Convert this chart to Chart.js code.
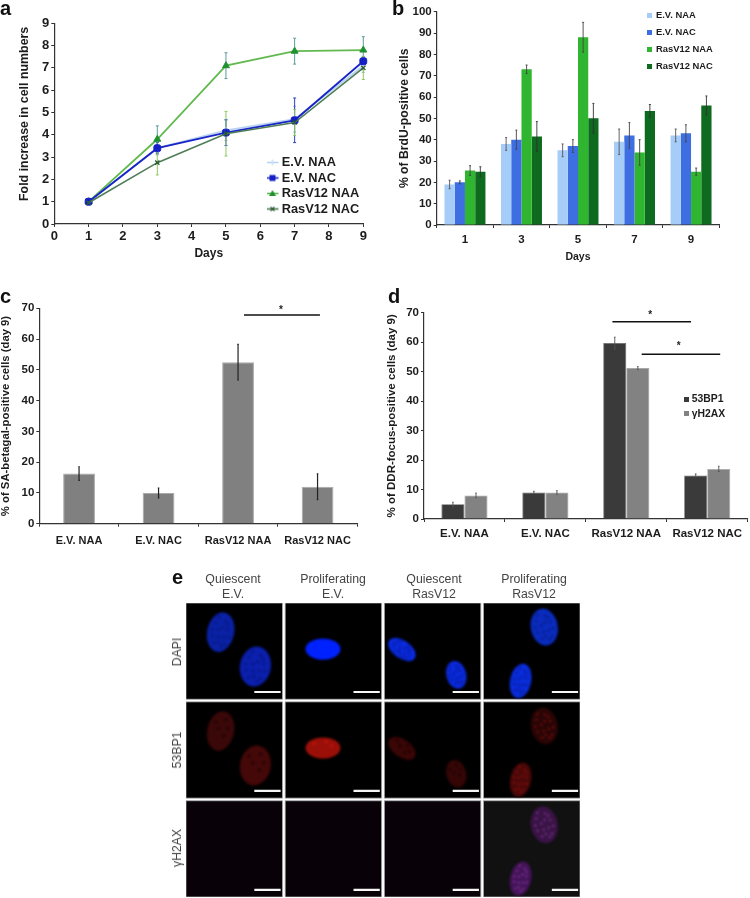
<!DOCTYPE html>
<html><head><meta charset="utf-8">
<script src="https://cdn.jsdelivr.net/npm/chart.js@4"></script>
<style>
html,body{margin:0;padding:0;background:#fff;width:750px;height:898px;overflow:hidden}
canvas{position:absolute;filter:blur(.5px)}
.t{position:absolute;font-family:"Liberation Sans",Arial,sans-serif;white-space:nowrap;filter:blur(.3px)}
.p{font-weight:bold;font-size:20px;color:#111;line-height:20px}
.c{font-size:12.3px;line-height:15px;color:#444;text-align:center;width:96px}
.r{font-size:12.3px;line-height:14px;color:#444;transform:translate(-50%,-50%) rotate(-90deg)}
</style></head><body>
<canvas id="ca" width="375" height="270" style="left:0;top:0"></canvas>
<canvas id="cb" width="375" height="270" style="left:375px;top:0"></canvas>
<canvas id="cc" width="375" height="290" style="left:0;top:280px"></canvas>
<canvas id="cd" width="375" height="290" style="left:375px;top:280px"></canvas>
<canvas id="ce" width="394" height="294" style="left:186px;top:603px"></canvas>
<div class="t p" style="left:0;top:-2px">a</div>
<div class="t p" style="left:392px;top:-2px">b</div>
<div class="t p" style="left:0;top:286px">c</div>
<div class="t p" style="left:388px;top:286px">d</div>
<div class="t p" style="left:172px;top:567px">e</div>
<div class="t c" style="left:185px;top:572px">Quiescent<br>E.V.</div>
<div class="t c" style="left:285px;top:572px">Proliferating<br>E.V.</div>
<div class="t c" style="left:386px;top:572px">Quiescent<br>RasV12</div>
<div class="t c" style="left:486px;top:572px">Proliferating<br>RasV12</div>
<div class="t r" style="left:177px;top:652px">DAPI</div>
<div class="t r" style="left:177px;top:750px">53BP1</div>
<div class="t r" style="left:177px;top:848px">γH2AX</div>
<script>
// ---------- data ----------
const seriesNames = ['E.V. NAA','E.V. NAC','RasV12 NAA','RasV12 NAC'];
const days = [1,3,5,7,9];
const foldEvNaa  = [1,3.4,4.2,4.7,7.1];
const foldEvNac  = [1,3.4,4.1,4.65,7.3];
const foldRasNaa = [1,3.8,7.1,7.75,7.8];
const foldRasNac = [0.95,2.75,4.05,4.55,7.0];
const foldErrEvNaa  = [0,0.3,0.45,0.58,0.3];
const foldErrEvNac  = [0,0.25,0.58,1.0,0.2];
const foldErrRasNaa = [0,0.6,0.58,0.58,0.6];
const foldErrRasNac = [0,0.55,1.0,0.58,0.52];

const dayLabels = ['1','3','5','7','9'];
const brduEvNaa  = [19,38,35,39,42];
const brduEvNac  = [20,40,37,42,43];
const brduRasNaa = [25.5,73,88,34,25];
const brduRasNac = [25,41.5,50,53.5,56];
const brduErrEvNaa  = [2,3,3,6,3];
const brduErrEvNac  = [0.7,4.5,3,6,4];
const brduErrRasNaa = [2.3,2,7,6,1.7];
const brduErrRasNac = [2.3,7,7,3,4.5];

const conditions = ['E.V. NAA','E.V. NAC','RasV12 NAA','RasV12 NAC'];
const betagal    = [16.3,10,52.5,12];
const betagalErr = [2.2,1.6,5.8,4.2];

const ddrNames = ['53BP1','γH2AX'];
const ddr53bp1 = [5,9,59.7,14.8];
const ddrH2ax  = [8,9,51.2,17];
const ddr53bp1Err = [0.7,0.4,2,0.5];
const ddrH2axErr  = [0.8,0.6,0.5,0.9];

const sigLinesC = [[2.075,3.03,67.8]];
const sigStarsC = [[2.54,70.2]];
const sigLinesD = [[1.828,2.80,66.9],[2.19,3.16,55.9]];
const sigStarsD = [[2.294,70.2],[2.648,59.7]];

// micrograph panels: nucleus centres (panel units), one row per stain
const nucleusX = [0.349,0.699,1.381,2.177,2.725,3.612,3.374];
const nucleusY = [0.294,0.642,0.466,0.469,0.726,0.243,0.787];
const panelCols = [0,1,2,3];
const panelRows = [0,1,2];
const scaleBarFrom = 0.689, scaleBarTo = 0.954, scaleBarY = 0.9;

// ---------- styles ----------
const FF = '"Liberation Sans",Arial,sans-serif';
const INK = '#1c1c1c';
const colA = ['#b9d3f2','#1a25c8','#62b94f','#4f7d55'];
const markA = ['#cfe0f6','#1420c4','#1f9130','#2b5a33'];
const errA = ['#9bb5c8','#2d3fcf','#5f9a9a','#8cc860'];
const colB = ['#a6cdf7','#3d6fe3','#2fb52f','#0d6a1f'];
const nucleusShape = [[13.5,20,12],[15.5,20,10],[17.5,10.5,0],[15.5,9,35],[10,14,-15],[13.5,18.5,-10],[10.5,17.5,12]];
const spots = [[-.5,-.4],[.2,-.6],[.5,-.2],[-.2,-.1],[.3,.2],[-.55,.25],[0,.5],[.45,.55],[-.3,.6],[.1,-.25],[-.65,-.05],[.65,.15],[-.1,.25],[.25,.7],[-.35,-.7],[.4,-.45]];
const dapiFill = ['#0a22a8','#0b20ae','#0022ff','#0a2ce6','#0a2ce6','#0a2cc0','#0a2ee0'];
const bpFill   = ['#3a0808','#440808','#9a1008','#3a0606','#360606','#2a0505','#4a0808'];

function legendAt(xText, yFirst, font, pad, w){
  return {id:'legendAt', afterLayout(ch){
    const l = ch.legend;
    const left = xText - font/2 - w - pad, top = yFirst - font/2 - pad;
    l.left = left; l.top = top; l.right = left + l.width; l.bottom = top + l.height;
  }};
}
function legendOpts(font, pad, w, sprites){
  return {display:true, position:'chartArea', align:'start',
    labels:{usePointStyle:true, pointStyleWidth:w, padding:pad, color:INK,
      font:{family:FF,size:font,weight:'bold'},
      generateLabels(ch){
        return Chart.defaults.plugins.legend.labels.generateLabels(ch)
          .sort((a,b)=>a.datasetIndex-b.datasetIndex)
          .map(it=>Object.assign(it,{pointStyle:sprites[it.datasetIndex],rotation:0}));
      }}};
}
function swatch(color,w,h){const c=document.createElement('canvas');c.width=w;c.height=h;const x=c.getContext('2d');x.fillStyle=color;x.fillRect(0,0,w,h);return c;}
function lineSwatch(i){
  const c=document.createElement('canvas');c.width=14;c.height=9;const x=c.getContext('2d');
  x.strokeStyle=colA[i];x.lineWidth=1.6;x.beginPath();x.moveTo(1,4.5);x.lineTo(13,4.5);x.stroke();
  x.fillStyle=markA[i];
  if(i===0){x.strokeStyle=markA[0];x.beginPath();x.moveTo(7,1.5);x.lineTo(7,7.5);x.stroke();}
  if(i===1){x.fillRect(4,1.5,6,6);}
  if(i===2){x.beginPath();x.moveTo(7,1);x.lineTo(10.5,7);x.lineTo(3.5,7);x.closePath();x.fill();}
  if(i===3){x.strokeStyle=markA[3];x.lineWidth=1.2;x.beginPath();x.moveTo(5,2.5);x.lineTo(9,6.5);x.moveTo(9,2.5);x.lineTo(5,6.5);x.stroke();}
  return c;
}
function errPlugin(errs, colors, capHalf, width, under){
  const paint=function(ch){
    const ctx=ch.ctx, ys=ch.scales.y;
    errs.forEach((arr,i)=>{
      const meta=ch.getDatasetMeta(i);
      arr.forEach((e,j)=>{
        if(!e) return;
        const x=meta.data[j].x, v=meta.controller.getParsed(j).y;
        const a=ys.getPixelForValue(v+e), b=ys.getPixelForValue(v-e);
        ctx.save();ctx.strokeStyle=colors[i];ctx.lineWidth=width;ctx.beginPath();
        ctx.moveTo(x,a);ctx.lineTo(x,b);
        ctx.moveTo(x-capHalf,a);ctx.lineTo(x+capHalf,a);
        ctx.moveTo(x-capHalf,b);ctx.lineTo(x+capHalf,b);
        ctx.stroke();ctx.restore();
      });
    });
  };
  return under?{id:'err',beforeDatasetsDraw:paint}:{id:'err',afterDatasetsDraw:paint};
}
function sigPlugin(lines, stars){
  return {id:'sig', afterDatasetsDraw(ch){
    const ctx=ch.ctx, xs=ch.scales.x, ys=ch.scales.y;
    ctx.save();ctx.strokeStyle='#111';ctx.lineWidth=1.5;ctx.fillStyle='#222';
    lines.forEach(l=>{ctx.beginPath();ctx.moveTo(xs.getPixelForValue(l[0]),ys.getPixelForValue(l[2]));ctx.lineTo(xs.getPixelForValue(l[1]),ys.getPixelForValue(l[2]));ctx.stroke();});
    ctx.font='bold 10px '+FF;ctx.textAlign='center';ctx.textBaseline='middle';
    stars.forEach(s=>ctx.fillText('*',xs.getPixelForValue(s[0]),ys.getPixelForValue(s[1])+3));
    ctx.restore();
  }};
}
function axes(o){
  const tickFont={family:FF,size:o.tickSize,weight:'bold'};
  const grid={drawOnChartArea:false,drawTicks:true,tickLength:3,color:'#333'};
  const border={color:'#333',width:1.2};
  const title=(t)=>t?{display:true,text:t.text,align:t.align||'center',color:INK,padding:t.padding,font:{family:FF,size:t.size,weight:'bold',lineHeight:1}}:{display:false};
  return {
    x:Object.assign({grid,border,title:title(o.xTitle),
      ticks:{color:INK,font:{family:FF,size:o.xTickSize||o.tickSize,weight:'bold'},padding:o.xPad,maxRotation:0,autoSkip:false},
      afterFit(s){s.height=o.xHeight;}},o.x||{}),
    y:Object.assign({grid,border,title:title(o.yTitle),min:0,max:o.yMax,
      ticks:{color:INK,font:tickFont,padding:o.yPad,stepSize:o.yStep},
      afterFit(s){s.width=o.yWidth;}},o.y||{})
  };
}
const base = {responsive:false,animation:false,devicePixelRatio:1,events:[]};

// ---------- panel a ----------
const foldSeries=[foldEvNaa,foldEvNac,foldRasNaa,foldRasNac];
const styleA=['cross','rectRounded','triangle','crossRot'];
const orderA=[3,1,2,0];
new Chart(document.getElementById('ca'),{
  type:'scatter',
  data:{datasets:foldSeries.map((s,i)=>({
    label:seriesNames[i],showLine:true,clip:false,order:orderA[i],
    data:days.map((d,k)=>({x:d,y:s[k]})),
    borderColor:colA[i],borderWidth:i===3?1.6:1.8,
    pointStyle:styleA[i],pointRadius:[3,4,4,3][i],pointBackgroundColor:markA[i],pointBorderColor:markA[i],pointBorderWidth:[1.2,1,1,1.3][i]
  }))},
  options:Object.assign({},base,{
    layout:{autoPadding:false,padding:{left:0,top:23.3,right:11.7,bottom:0}},
    plugins:{legend:legendOpts(12.8,2.7,5.6,[0,1,2,3].map(lineSwatch)),tooltip:{enabled:false}},
    scales:axes({tickSize:13,xPad:1.5,yPad:2,xHeight:46,yWidth:54.3,yMax:9,yStep:1,
      xTitle:{text:'Days',size:12,padding:{top:0,bottom:10}},
      yTitle:{text:'Fold increase in cell numbers\u00a0',size:12.4,align:'end',padding:{top:18,bottom:0}},
      x:{type:'linear',min:0,max:9,ticks:{color:INK,font:{family:FF,size:13,weight:'bold'},padding:1.5,stepSize:1,maxRotation:0}}})
  }),
  plugins:[legendAt(281.7,162.5,12.8,2.7,5.6),errPlugin([foldErrEvNaa,foldErrEvNac,foldErrRasNaa,foldErrRasNac],errA,1.5,1,true)]
});

// ---------- panel b ----------
const brduSeries=[brduEvNaa,brduEvNac,brduRasNaa,brduRasNac];
new Chart(document.getElementById('cb'),{
  type:'bar',
  data:{labels:dayLabels,datasets:brduSeries.map((s,i)=>({label:seriesNames[i],data:s,backgroundColor:colB[i],barPercentage:1,categoryPercentage:0.725}))},
  options:Object.assign({},base,{
    layout:{autoPadding:false,padding:{left:0,top:11.7,right:30.7,bottom:0}},
    plugins:{legend:legendOpts(9.4,7.6,3.2,colB.map(c=>swatch(c,5,5))),tooltip:{enabled:false}},
    scales:axes({tickSize:11.5,xPad:5,yPad:2,xHeight:45,yWidth:61.7,yMax:100,yStep:10,
      xTitle:{text:'Days',size:10.5,padding:{top:0,bottom:8}},
      yTitle:{text:'% of BrdU-positive cells',size:12.2,padding:{top:24,bottom:0}}})
  }),
  plugins:[legendAt(281,15.7,9.4,7.6,3.2),errPlugin([brduErrEvNaa,brduErrEvNac,brduErrRasNaa,brduErrRasNac],['#555','#444','#444','#333'],1,0.9)]
});

// ---------- panel c ----------
new Chart(document.getElementById('cc'),{
  type:'bar',
  data:{labels:conditions,datasets:[{label:'SA-betagal',data:betagal,backgroundColor:'#808080',borderColor:'#a9a9a9',borderWidth:1,barPercentage:1,categoryPercentage:0.4}]},
  options:Object.assign({},base,{
    layout:{autoPadding:false,padding:{left:0,top:28.3,right:17.7,bottom:0}},
    plugins:{legend:{display:false},tooltip:{enabled:false}},
    scales:axes({tickSize:11.5,xTickSize:11,xPad:8,yPad:2,xHeight:46.3,yWidth:39.3,yMax:70,yStep:10,
      yTitle:{text:'% of SA-betagal-positive cells (day 9)',size:11.3,padding:{top:0.4,bottom:0}}})
  }),
  plugins:[errPlugin([betagalErr],['#222'],0.8,1.2),sigPlugin(sigLinesC,sigStarsC)]
});

// ---------- panel d ----------
new Chart(document.getElementById('cd'),{
  type:'bar',
  data:{labels:conditions,datasets:[
    {label:ddrNames[0],data:ddr53bp1,backgroundColor:'#3a3a3a',borderColor:'#666',borderWidth:0.8,barPercentage:1,categoryPercentage:0.57},
    {label:ddrNames[1],data:ddrH2ax,backgroundColor:'#828282',borderColor:'#a8a8a8',borderWidth:0.8,barPercentage:1,categoryPercentage:0.57}]},
  options:Object.assign({},base,{
    layout:{autoPadding:false,padding:{left:0,top:32.7,right:2.3,bottom:0}},
    plugins:{legend:legendOpts(10.4,4.3,1,['#3a3a3a','#828282'].map(c=>swatch(c,5,5))),tooltip:{enabled:false}},
    scales:axes({tickSize:11.5,xTickSize:11.5,xPad:4.7,yPad:2,xHeight:51,yWidth:49,yMax:70,yStep:10,
      yTitle:{text:'% of DDR-focus-positive cells (day 9)',size:11.5,padding:{top:11.2,bottom:0}}})
  }),
  plugins:[legendAt(316.7,119,10.4,4.3,1),errPlugin([ddr53bp1Err,ddrH2axErr],['#555','#555'],0.8,0.9),sigPlugin(sigLinesD,sigStarsD)]
});

// ---------- panel e ----------
function nucleus(shape, fill, spotColor, spotR, spotCount){
  const [rx,ry,rot]=shape, m=Math.ceil(Math.max(rx,ry))+4, size=m*2;
  const t=document.createElement('canvas');t.width=t.height=size;
  const x=t.getContext('2d');
  x.translate(m,m);x.rotate(rot*Math.PI/180);
  x.beginPath();x.ellipse(0,0,rx,ry,0,0,Math.PI*2);x.fillStyle=fill;x.fill();x.clip();
  x.fillStyle=spotColor;
  spots.slice(0,spotCount).forEach(s=>{x.beginPath();x.arc(s[0]*rx,s[1]*ry,spotR,0,Math.PI*2);x.fill();});
  const c=document.createElement('canvas');c.width=c.height=size;
  const y=c.getContext('2d');y.filter='blur(1.1px)';y.drawImage(t,0,0);
  return c;
}
const dapiSprites=nucleusShape.map((s,i)=>nucleus(s,dapiFill[i],i===2?'#0022ff':'rgba(0,0,40,.2)',2,16));
const bpSprites=nucleusShape.map((s,i)=>nucleus(s,bpFill[i],i>=5?'#b81212':(i===2?'#d01010':'#1c0202'),i>=5?0.9:1.4,i===2?3:(i>=5?16:5)));
const gammaIdx=[5,6];
const gammaSprites=gammaIdx.map(i=>nucleus(nucleusShape[i],i===5?'#3a1446':'#45145a','#a048b8',0.9,16));
const scaleBarData=[];
panelRows.forEach(r=>panelCols.forEach(c=>{
  scaleBarData.push({x:c+scaleBarFrom,y:r+scaleBarY},{x:c+scaleBarTo,y:r+scaleBarY},{x:null,y:null});
}));
new Chart(document.getElementById('ce'),{
  type:'scatter',
  data:{datasets:[
    {label:'DAPI',data:nucleusX.map((v,i)=>({x:v,y:nucleusY[i]})),pointStyle:dapiSprites,pointRadius:10,clip:false},
    {label:'53BP1',data:nucleusX.map((v,i)=>({x:v,y:nucleusY[i]+1})),pointStyle:bpSprites,pointRadius:10,clip:false},
    {label:'γH2AX',data:gammaIdx.map(i=>({x:nucleusX[i],y:nucleusY[i]+2})),pointStyle:gammaSprites,pointRadius:10,clip:false},
    {label:'scale bar',data:scaleBarData,showLine:true,spanGaps:false,borderColor:'#f6f6f6',borderWidth:2.2,pointRadius:0,clip:false}
  ]},
  options:Object.assign({},base,{
    layout:{autoPadding:false,padding:0},
    plugins:{legend:{display:false},tooltip:{enabled:false}},
    scales:{
      x:{type:'linear',display:false,min:0,max:3.973},
      y:{type:'linear',display:false,min:0,max:2.973,reverse:true}
    }
  }),
  plugins:[{id:'panels',beforeDatasetsDraw(ch){
    const ctx=ch.ctx,xs=ch.scales.x,ys=ch.scales.y;
    panelRows.forEach(r=>panelCols.forEach(c=>{
      const x0=xs.getPixelForValue(c),x1=xs.getPixelForValue(c+0.973),y0=ys.getPixelForValue(r),y1=ys.getPixelForValue(r+0.973);
      ctx.fillStyle=r===2?(c===3?'#111111':'#080208'):'#000';
      ctx.fillRect(x0,y0,x1-x0,y1-y0);
      ctx.strokeStyle='#a8a8a8';ctx.lineWidth=0.8;ctx.strokeRect(x0,y0,x1-x0,y1-y0);
    }));
  }}]
});
</script>
</body></html>
